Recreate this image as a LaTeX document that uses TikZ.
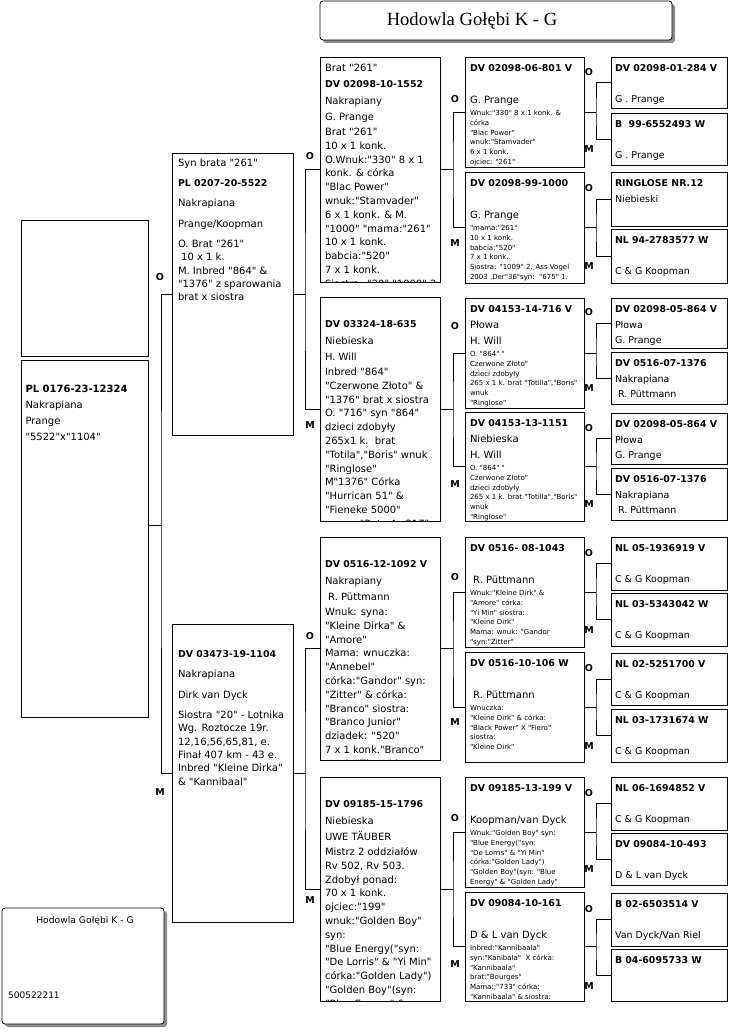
\documentclass[tikz,border=0pt]{standalone}
\usepackage{fontspec}
\newfontfamily\dvs{DejaVu Sans}
\newfontfamily\titlefont{Liberation Serif}
\usetikzlibrary{fit}
\newcommand\pfs[2]{\dvs\fontsize{#1}{#2}\selectfont}
\newcommand\hdB{\fontsize{9.4}{14}\selectfont\bfseries}
\newcommand\boxtext[4]{\node[#1] at ([xshift=#2pt,yshift=-#3pt]\curbox.north west) {\strut#4};}
\newcommand\pedbox[6]{%
  \node[pbox, anchor=north west, minimum width={#4pt-#2pt}, minimum height={#5pt-#3pt}] (#1) at (#2,#3) {};
  \def\curbox{#1}%
  \begin{scope}\clip (#1.north west) rectangle (#1.south east); #6 \end{scope}}
\begin{document}
\begin{tikzpicture}[x=1pt,y=-1pt]
\tikzset{
 pbox/.style={draw=black, line width=0.8pt, inner sep=0pt, outer sep=0pt, fill=white},
 conn/.style={draw=black, line width=0.8pt},
 tx/.style={anchor=north west, inner sep=0pt, outer sep=0pt, align=left},
 tone/.style={tx, font=\pfs{10}{16}},
 ttwo/.style={tx, font=\pfs{10}{13.4}},
 tthree/.style={tx, font=\pfs{10}{13.8}},
 tfour/.style={tx, font=\pfs{10}{16}},
 tsmall/.style={tx, font=\pfs{7}{9.7}},
 tfive/.style={tx, font=\pfs{9.5}{15.5}},
 lbl/.style={inner sep=0pt, font=\pfs{9.5}{10}\bfseries},
 shadow/.style={fill=black!45, draw=none, rounded corners=3pt},
 frame/.style={draw=black, line width=0.8pt, fill=white, rounded corners=3pt, inner sep=0pt}
}
\useasboundingbox (0,0) rectangle (729,1033);
\fill[white] (0,0) rectangle (729,1033);

% title
\fill[shadow] (323,4) rectangle (675,43);
\node[frame, fit={(320,1) (672,40)}] (title) {};
\node[inner sep=0pt, font=\titlefont\fontsize{18.6}{20}\selectfont] (ttl) at (472,21) {Hodowla Gołębi K - G};

% bottom-left box
\fill[shadow] (5,911) rectangle (167,1027);
\node[frame, fit={(2,908) (164,1024)}] (foot) {};
\node[inner sep=0pt, font=\pfs{9.2}{11}] (foot1) at (85,921) {Hodowla Gołębi K - G};
\node[inner sep=0pt, anchor=west, font=\pfs{9}{11}] (foot2) at (8,995) {500522211};

% generation 1
\pedbox{g10}{21}{220}{148}{356}{}
\pedbox{g1}{21}{360}{148}{717}{\boxtext{tone}{4.5}{5.4}{\\{\bfseries PL 0176-23-12324}\\Nakrapiana\\Prange\\"5522"x"1104"}}

% generation 2
\pedbox{g21}{172}{153}{293}{435}{\boxtext{ttwo}{6}{4.2}{Syn brata "261"\\[6.8pt]{\hdB PL 0207-20-5522}\\[6.8pt]Nakrapiana\\[6.8pt]Prange/Koopman\\[6.8pt]O. Brat "261"\\{}\ 10 x 1 k.\\M. Inbred "864" \&\\"1376" z sparowania\\brat x siostra}}
\pedbox{g22}{172}{624}{293}{922}{\boxtext{ttwo}{6}{4.2}{\\[6.8pt]{\hdB DV 03473-19-1104}\\[6.8pt]Nakrapiana\\[6.8pt]Dirk van Dyck\\[6.8pt]Siostra "20" - Lotnika\\Wg. Roztocze 19r.\\12,16,56,65,81, e.\\Finał 407 km - 43 e.\\Inbred "Kleine Dirka"\\\& "Kannibaal"}}

% generation 3
\pedbox{g31}{320}{57}{440}{282}{\boxtext{tthree}{5}{5}{Brat "261"\\[2.5pt]{\hdB DV 02098-10-1552}\\[2.5pt]Nakrapiany\\[2.5pt]G. Prange\\[1.2pt]Brat "261"\\10 x 1 konk.\\O.Wnuk:"330" 8 x 1\\konk. \& córka\\"Blac Power"\\wnuk:"Stamvader"\\6 x 1 konk. \& M.\\"1000" "mama:"261"\\10 x 1 konk.\\babcia:"520"\\7 x 1 konk.\\Siostra: "20" "1009" 2.}}
\pedbox{g32}{320}{297}{440}{521}{\boxtext{tthree}{5}{5}{\\[2.5pt]{\hdB DV 03324-18-635}\\[2.5pt]Niebieska\\[2.5pt]H. Will\\[1.2pt]Inbred "864"\\"Czerwone Złoto" \&\\"1376" brat x siostra\\O. "716" syn "864"\\dzieci zdobyły\\265x1 k.\ \ brat\\"Totila","Boris" wnuk\\"Ringlose"\\M"1376" Córka\\"Hurrican 51" \&\\"Fieneke 5000"\\mama "Rote As 217"}}
\pedbox{g33}{320}{537}{440}{760}{\boxtext{tthree}{5}{5}{\\[2.5pt]{\hdB DV 0516-12-1092 V}\\[2.5pt]Nakrapiany\\[2.5pt]{}\ R. Püttmann\\[1.2pt]Wnuk: syna:\\"Kleine Dirka" \&\\"Amore"\\Mama: wnuczka:\\"Annebel"\\córka:"Gandor" syn:\\"Zitter" \& córka:\\"Branco" siostra:\\"Branco Junior"\\dziadek: "520"\\7 x 1 konk."Branco"\\wnuk:"Zitter" brat:}}
\pedbox{g34}{320}{777}{440}{1001}{\boxtext{tthree}{5}{5}{\\[2.5pt]{\hdB DV 09185-15-1796}\\[2.5pt]Niebieska\\[2.5pt]UWE TÄUBER\\[1.2pt]Mistrz 2 oddziałów\\Rv 502, Rv 503.\\Zdobył ponad:\\70 x 1 konk.\\ojciec:"199"\\wnuk:"Golden Boy"\\syn:\\"Blue Energy("syn:\\"De Lorris" \& "Yi Min"\\córka:"Golden Lady")\\"Golden Boy"(syn:\\"Blue Energy" \&}}

% generation 4
\pedbox{g41}{465}{57}{584}{167}{\boxtext{tfour}{5}{3.4}{{\hdB DV 02098-06-801 V}\\[16pt]G. Prange}\boxtext{tsmall}{5}{52}{Wnuk:"330" 8 x 1 konk. \&\\córka\\"Blac Power"\\wnuk:"Stamvader"\\6 x 1 konk.\\ojciec: "261"}}
\pedbox{g42}{465}{172}{584}{283}{\boxtext{tfour}{5}{3.4}{{\hdB DV 02098-99-1000}\\[16pt]G. Prange}\boxtext{tsmall}{5}{52}{"mama:"261"\\10 x 1 konk.\\babcia:"520"\\7 x 1 konk.\\Siostra: "1009" 2. Ass Vogel\\2003 .Der"36"syn:\ \ "675" 1.}}
\pedbox{g43}{465}{298}{584}{408}{\boxtext{tfour}{5}{3.4}{{\hdB DV 04153-14-716 V}\\Płowa\\H. Will}\boxtext{tsmall}{5}{52}{O. "864" "\\Czerwone Złoto"\\dzieci zdobyły\\265 x 1 k. brat "Totilla","Boris"\\wnuk\\"Ringlose"}}
\pedbox{g44}{465}{412}{584}{521}{\boxtext{tfour}{5}{3.4}{{\hdB DV 04153-13-1151}\\Niebieska\\H. Will}\boxtext{tsmall}{5}{52}{O. "864" "\\Czerwone Złoto"\\dzieci zdobyły\\265 x 1 k. brat "Totilla","Boris"\\wnuk\\"Ringlose"}}
\pedbox{g45}{465}{537}{584}{647}{\boxtext{tfour}{5}{3.4}{{\hdB DV 0516- 08-1043}\\[16pt]{}\ R. Püttmann}\boxtext{tsmall}{5}{52}{Wnuk:"Kleine Dirk" \&\\"Amore" córka:\\"Yi Min" siostra:\\"Kleine Dirk"\\Mama: wnuk: "Gandor\\"syn:"Zitter"}}
\pedbox{g46}{465}{652}{584}{762}{\boxtext{tfour}{5}{3.4}{{\hdB DV 0516-10-106 W}\\[16pt]{}\ R. Püttmann}\boxtext{tsmall}{5}{52}{Wnuczka:\\"Kleine Dirk" \& córka:\\"Black Power" X "Fiero"\\siostra:\\"Kleine Dirk"}}
\pedbox{g47}{465}{777}{584}{887}{\boxtext{tfour}{5}{3.4}{{\hdB DV 09185-13-199 V}\\[16pt]Koopman/van Dyck}\boxtext{tsmall}{5}{52}{Wnuk:"Golden Boy" syn:\\"Blue Energy("syn:\\"De Lorris" \& "Yi Min"\\córka:"Golden Lady")\\"Golden Boy"(syn: "Blue\\Energy" \& "Golden Lady"}}
\pedbox{g48}{465}{892}{584}{1001}{\boxtext{tfour}{5}{3.4}{{\hdB DV 09084-10-161}\\[16pt]D \& L van Dyck}\boxtext{tsmall}{5}{52}{Inbred:"Kannibaala"\\syn:"Kanibala"\ \ X córka:\\"Kannibaala"\\brat:"Bourges"\\Mama:;"733" córka:\\"Kannibaala" \& siostra:}}

% generation 5
\pedbox{g51}{611}{57}{727}{108}{\boxtext{tfive}{4}{4.1}{{\hdB DV 02098-01-284 V}\\[15.5pt]G . Prange}}
\pedbox{g52}{611}{113}{727}{165}{\boxtext{tfive}{4}{4.1}{{\hdB B\ \ 99-6552493 W}\\[15.5pt]G . Prange}}
\pedbox{g53}{611}{172}{727}{226}{\boxtext{tfive}{4}{4.1}{{\hdB RINGLOSE NR.12}\\Niebieski}}
\pedbox{g54}{611}{229}{727}{283}{\boxtext{tfive}{4}{4.1}{{\hdB NL 94-2783577 W}\\[15.5pt]C \& G Koopman}}
\pedbox{g55}{611}{298}{727}{348}{\boxtext{tfive}{4}{4.1}{{\hdB DV 02098-05-864 V}\\Płowa\\G. Prange}}
\pedbox{g56}{611}{352}{727}{404}{\boxtext{tfive}{4}{4.1}{{\hdB DV 0516-07-1376}\\Nakrapiana\\{}\ R. Püttmann}}
\pedbox{g57}{611}{413}{727}{464}{\boxtext{tfive}{4}{4.1}{{\hdB DV 02098-05-864 V}\\Płowa\\G. Prange}}
\pedbox{g58}{611}{468}{727}{520}{\boxtext{tfive}{4}{4.1}{{\hdB DV 0516-07-1376}\\Nakrapiana\\{}\ R. Püttmann}}
\pedbox{g59}{611}{537}{727}{590}{\boxtext{tfive}{4}{4.1}{{\hdB NL 05-1936919 V}\\[15.5pt]C \& G Koopman}}
\pedbox{g510}{611}{593}{727}{646}{\boxtext{tfive}{4}{4.1}{{\hdB NL 03-5343042 W}\\[15.5pt]C \& G Koopman}}
\pedbox{g511}{611}{653}{727}{705}{\boxtext{tfive}{4}{4.1}{{\hdB NL 02-5251700 V}\\[15.5pt]C \& G Koopman}}
\pedbox{g512}{611}{709}{727}{762}{\boxtext{tfive}{4}{4.1}{{\hdB NL 03-1731674 W}\\[15.5pt]C \& G Koopman}}
\pedbox{g513}{611}{777}{727}{830}{\boxtext{tfive}{4}{4.1}{{\hdB NL 06-1694852 V}\\[15.5pt]C \& G Koopman}}
\pedbox{g514}{611}{833}{727}{885}{\boxtext{tfive}{4}{4.1}{{\hdB DV 09084-10-493}\\[15.5pt]D \& L van Dyck}}
\pedbox{g515}{611}{893}{727}{946}{\boxtext{tfive}{4}{4.1}{{\hdB B 02-6503514 V}\\[15.5pt]Van Dyck/Van Riel}}
\pedbox{g516}{611}{949}{727}{1001}{\boxtext{tfive}{4}{4.1}{{\hdB B 04-6095733 W}}}

% connectors gen1 -> gen2
\coordinate (j1) at (161,525);
\draw[conn] (g1.east |- j1) -- (j1);
\draw[conn] (g21.west) -| (j1) |- (g22.west);
% gen2 -> gen3
\foreach \p/\a/\b in {g21/g31/g32, g22/g33/g34}{
  \coordinate (j\p) at ([xshift=12pt]\p.east);
  \draw[conn] (\p.east) -- (j\p);
  \draw[conn] (\a.west) -| (j\p) |- (\b.west);
}
% gen3 -> gen4
\foreach \p/\a/\b in {g31/g41/g42, g32/g43/g44, g33/g45/g46, g34/g47/g48}{
  \coordinate (j\p) at ([xshift=13pt]\p.east);
  \draw[conn] (\p.east) -- (j\p);
  \draw[conn] (\a.west) -| (j\p) |- (\b.west);
}
% gen4 -> gen5
\foreach \p/\a/\b in {g41/g51/g52, g42/g53/g54, g43/g55/g56, g44/g57/g58, g45/g59/g510, g46/g511/g512, g47/g513/g514, g48/g515/g516}{
  \coordinate (j\p) at ([xshift=12pt]\p.east);
  \draw[conn] (\p.east) -- (j\p);
  \draw[conn] (\a.west) -| (j\p) |- (\b.west);
}

% O / M labels
\node[lbl] (o2) at (160,277) {O};
\node[lbl] (m2) at (160,792) {M};
\node[lbl] (o31) at (310,156) {O};
\node[lbl] (m31) at (310,425) {M};
\node[lbl] (o32) at (310,636) {O};
\node[lbl] (m32) at (310,900) {M};
\foreach \o/\m [count=\i] in {99/243, 326/484, 577/722, 818/964}{
  \node[lbl] (o4\i) at (455,\o) {O};
  \node[lbl] (m4\i) at (455,\m) {M};
}
\foreach \o/\m [count=\i] in {72/149, 188/266, 312/388, 428/504, 553/630, 668/746, 793/869, 909/986}{
  \node[lbl] (o5\i) at (589,\o) {O};
  \node[lbl] (m5\i) at (589,\m) {M};
}
\end{tikzpicture}
\end{document}
